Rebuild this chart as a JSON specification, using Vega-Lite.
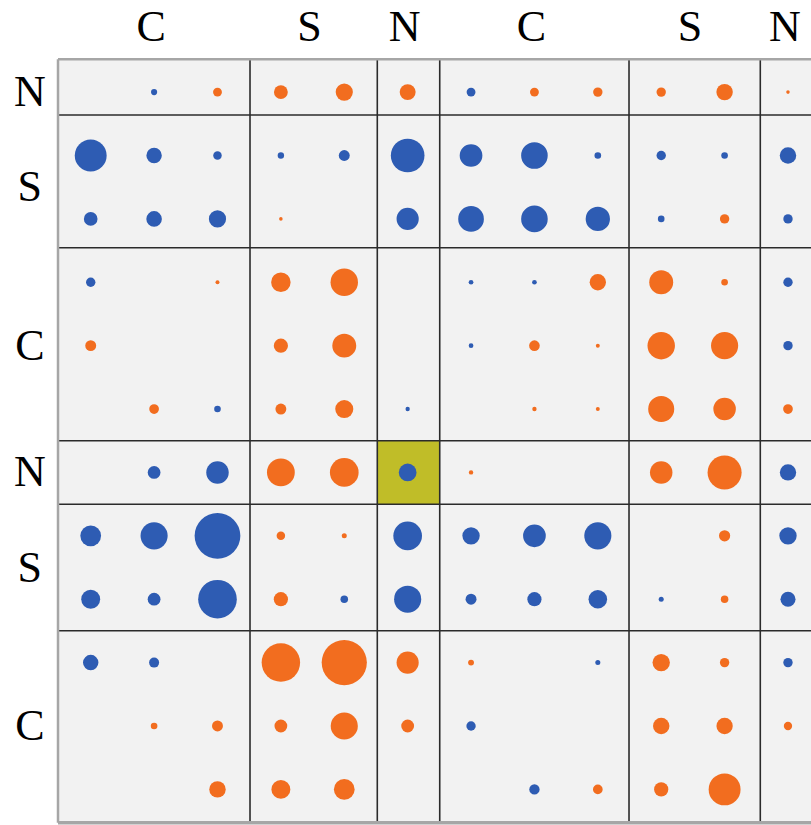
{
  "$schema": "https://vega.github.io/schema/vega-lite/v6.json",
  "width": 811,
  "height": 825,
  "autosize": {"type": "none"},
  "padding": 0,
  "background": "white",
  "config": {"view": {"stroke": null}},
  "datasets": {
    "cells": [
      {"r":0,"c":1,"k":"B","v":12},{"r":0,"c":2,"k":"O","v":25},{"r":0,"c":3,"k":"O","v":61},{"r":0,"c":4,"k":"O","v":94},{"r":0,"c":5,"k":"O","v":81},{"r":0,"c":6,"k":"B","v":25},{"r":0,"c":7,"k":"O","v":25},{"r":0,"c":8,"k":"O","v":28},{"r":0,"c":9,"k":"O","v":28},{"r":0,"c":10,"k":"O","v":86},{"r":0,"c":11,"k":"O","v":4},
      {"r":1,"c":0,"k":"B","v":324},{"r":1,"c":1,"k":"B","v":76},{"r":1,"c":2,"k":"B","v":23},{"r":1,"c":3,"k":"B","v":13},{"r":1,"c":4,"k":"B","v":38},{"r":1,"c":5,"k":"B","v":361},{"r":1,"c":6,"k":"B","v":164},{"r":1,"c":7,"k":"B","v":225},{"r":1,"c":8,"k":"B","v":14},{"r":1,"c":9,"k":"B","v":28},{"r":1,"c":10,"k":"B","v":14},{"r":1,"c":11,"k":"B","v":86},
      {"r":2,"c":0,"k":"B","v":59},{"r":2,"c":1,"k":"B","v":77},{"r":2,"c":2,"k":"B","v":94},{"r":2,"c":3,"k":"O","v":4},{"r":2,"c":5,"k":"B","v":156},{"r":2,"c":6,"k":"B","v":210},{"r":2,"c":7,"k":"B","v":225},{"r":2,"c":8,"k":"B","v":188},{"r":2,"c":9,"k":"B","v":14},{"r":2,"c":10,"k":"O","v":28},{"r":2,"c":11,"k":"B","v":28},
      {"r":3,"c":0,"k":"B","v":28},{"r":3,"c":2,"k":"O","v":5},{"r":3,"c":3,"k":"O","v":121},{"r":3,"c":4,"k":"O","v":240},{"r":3,"c":6,"k":"B","v":7},{"r":3,"c":7,"k":"B","v":7},{"r":3,"c":8,"k":"O","v":85},{"r":3,"c":9,"k":"O","v":182},{"r":3,"c":10,"k":"O","v":14},{"r":3,"c":11,"k":"B","v":28},
      {"r":4,"c":0,"k":"O","v":38},{"r":4,"c":3,"k":"O","v":64},{"r":4,"c":4,"k":"O","v":182},{"r":4,"c":6,"k":"B","v":7},{"r":4,"c":7,"k":"O","v":36},{"r":4,"c":8,"k":"O","v":5},{"r":4,"c":9,"k":"O","v":240},{"r":4,"c":10,"k":"O","v":234},{"r":4,"c":11,"k":"B","v":28},
      {"r":5,"c":1,"k":"O","v":30},{"r":5,"c":2,"k":"B","v":14},{"r":5,"c":3,"k":"O","v":38},{"r":5,"c":4,"k":"O","v":104},{"r":5,"c":5,"k":"B","v":6},{"r":5,"c":7,"k":"O","v":6},{"r":5,"c":8,"k":"O","v":5},{"r":5,"c":9,"k":"O","v":216},{"r":5,"c":10,"k":"O","v":161},{"r":5,"c":11,"k":"O","v":30},
      {"r":6,"c":1,"k":"B","v":52},{"r":6,"c":2,"k":"B","v":161},{"r":6,"c":3,"k":"O","v":246},{"r":6,"c":4,"k":"O","v":262},{"r":6,"c":5,"k":"B","v":100},{"r":6,"c":6,"k":"O","v":6},{"r":6,"c":9,"k":"O","v":161},{"r":6,"c":10,"k":"O","v":369},{"r":6,"c":11,"k":"B","v":85},
      {"r":7,"c":0,"k":"B","v":137},{"r":7,"c":1,"k":"B","v":234},{"r":7,"c":2,"k":"B","v":666},{"r":7,"c":3,"k":"O","v":23},{"r":7,"c":4,"k":"O","v":8},{"r":7,"c":5,"k":"B","v":262},{"r":7,"c":6,"k":"B","v":96},{"r":7,"c":7,"k":"B","v":164},{"r":7,"c":8,"k":"B","v":234},{"r":7,"c":10,"k":"O","v":40},{"r":7,"c":11,"k":"B","v":96},
      {"r":8,"c":0,"k":"B","v":114},{"r":8,"c":1,"k":"B","v":52},{"r":8,"c":2,"k":"B","v":475},{"r":8,"c":3,"k":"O","v":64},{"r":8,"c":4,"k":"B","v":18},{"r":8,"c":5,"k":"B","v":234},{"r":8,"c":6,"k":"B","v":38},{"r":8,"c":7,"k":"B","v":64},{"r":8,"c":8,"k":"B","v":110},{"r":8,"c":9,"k":"B","v":8},{"r":8,"c":10,"k":"O","v":18},{"r":8,"c":11,"k":"B","v":72},
      {"r":9,"c":0,"k":"B","v":76},{"r":9,"c":1,"k":"B","v":32},{"r":9,"c":3,"k":"O","v":471},{"r":9,"c":4,"k":"O","v":650},{"r":9,"c":5,"k":"O","v":156},{"r":9,"c":6,"k":"O","v":11},{"r":9,"c":8,"k":"B","v":8},{"r":9,"c":9,"k":"O","v":96},{"r":9,"c":10,"k":"O","v":28},{"r":9,"c":11,"k":"B","v":28},
      {"r":10,"c":1,"k":"O","v":14},{"r":10,"c":2,"k":"O","v":38},{"r":10,"c":3,"k":"O","v":52},{"r":10,"c":4,"k":"O","v":234},{"r":10,"c":5,"k":"O","v":52},{"r":10,"c":6,"k":"B","v":28},{"r":10,"c":9,"k":"O","v":86},{"r":10,"c":10,"k":"O","v":85},{"r":10,"c":11,"k":"O","v":22},
      {"r":11,"c":2,"k":"O","v":86},{"r":11,"c":3,"k":"O","v":114},{"r":11,"c":4,"k":"O","v":137},{"r":11,"c":7,"k":"B","v":34},{"r":11,"c":8,"k":"O","v":30},{"r":11,"c":9,"k":"O","v":64},{"r":11,"c":10,"k":"O","v":324}
    ],
    "inner": [
      {"x":2.513,"x2":2.513,"y":-0.517,"y2":11.526},
      {"x":4.521,"x2":4.521,"y":-0.517,"y2":11.526},
      {"x":5.506,"x2":5.506,"y":-0.517,"y2":11.526},
      {"x":8.492,"x2":8.492,"y":-0.517,"y2":11.526},
      {"x":10.563,"x2":10.563,"y":-0.517,"y2":11.526},
      {"x":-0.516,"x2":11.5,"y":0.361,"y2":0.361},
      {"x":-0.516,"x2":11.5,"y":2.455,"y2":2.455},
      {"x":-0.516,"x2":11.5,"y":5.499,"y2":5.499},
      {"x":-0.516,"x2":11.5,"y":6.503,"y2":6.503},
      {"x":-0.516,"x2":11.5,"y":8.497,"y2":8.497}
    ],
    "border": [
      {"x":-0.516,"x2":-0.516,"y":-0.517,"y2":11.526},
      {"x":-0.516,"x2":11.5,"y":-0.517,"y2":-0.517}
    ],
    "bottom": [
      {"x":-0.516,"x2":11.5,"y":11.526,"y2":11.526}
    ],
    "area": [{"x":-0.516,"x2":11.5,"y":-0.517,"y2":11.526}],
    "focus": [{"x":4.521,"x2":5.506,"y":5.499,"y2":6.503}],
    "toplabels": [
      {"t":"C","x":1,"y":-0.814},{"t":"S","x":3.5,"y":-0.814},{"t":"N","x":5,"y":-0.814},
      {"t":"C","x":7,"y":-0.814},{"t":"S","x":9.5,"y":-0.814},{"t":"N","x":11,"y":-0.814}
    ],
    "leftlabels": [
      {"t":"N","x":-0.96,"y":0},{"t":"S","x":-0.96,"y":1.5},{"t":"C","x":-0.96,"y":4},
      {"t":"N","x":-0.96,"y":6},{"t":"S","x":-0.96,"y":7.5},{"t":"C","x":-0.96,"y":10}
    ]
  },
  "encoding": {},
  "layer": [
    {
      "data": {"name": "area"},
      "mark": {"type": "rect", "fill": "#f2f2f2"},
      "encoding": {
        "x": {"field": "x", "type": "quantitative", "scale": {"domain": [-1.431, 11.363], "nice": false, "zero": false}, "axis": null},
        "x2": {"field": "x2"},
        "y": {"field": "y", "type": "quantitative", "scale": {"domain": [-1.453, 11.562], "nice": false, "zero": false, "reverse": true}, "axis": null},
        "y2": {"field": "y2"}
      }
    },
    {
      "data": {"name": "focus"},
      "mark": {"type": "rect", "fill": "#c0bd28"},
      "encoding": {
        "x": {"field": "x", "type": "quantitative"},
        "x2": {"field": "x2"},
        "y": {"field": "y", "type": "quantitative"},
        "y2": {"field": "y2"}
      }
    },
    {
      "data": {"name": "inner"},
      "mark": {"type": "rule", "stroke": "#2b2b2b", "strokeWidth": 1.6},
      "encoding": {
        "x": {"field": "x", "type": "quantitative"},
        "x2": {"field": "x2"},
        "y": {"field": "y", "type": "quantitative"},
        "y2": {"field": "y2"}
      }
    },
    {
      "data": {"name": "border"},
      "mark": {"type": "rule", "stroke": "#a6a6a6", "strokeWidth": 2.5},
      "encoding": {
        "x": {"field": "x", "type": "quantitative"},
        "x2": {"field": "x2"},
        "y": {"field": "y", "type": "quantitative"},
        "y2": {"field": "y2"}
      }
    },
    {
      "data": {"name": "bottom"},
      "mark": {"type": "rule", "stroke": "#a6a6a6", "strokeWidth": 3.5},
      "encoding": {
        "x": {"field": "x", "type": "quantitative"},
        "x2": {"field": "x2"},
        "y": {"field": "y", "type": "quantitative"},
        "y2": {"field": "y2"}
      }
    },
    {
      "data": {"name": "cells"},
      "mark": {"type": "point", "shape": "circle", "filled": true, "opacity": 1},
      "encoding": {
        "x": {"field": "c", "type": "quantitative"},
        "y": {"field": "r", "type": "quantitative"},
        "size": {"field": "v", "type": "quantitative", "scale": {"type": "linear", "domain": [0, 1000], "range": [0, 3141.6], "zero": true}, "legend": null},
        "color": {"field": "k", "type": "nominal", "scale": {"domain": ["B", "O"], "range": ["#2e5cb3", "#f26d1f"]}, "legend": null}
      }
    },
    {
      "data": {"name": "toplabels"},
      "mark": {"type": "text", "font": "Liberation Serif", "fontSize": 44, "align": "center", "baseline": "alphabetic", "dx": -3, "color": "#000000"},
      "encoding": {
        "x": {"field": "x", "type": "quantitative"},
        "y": {"field": "y", "type": "quantitative"},
        "text": {"field": "t"}
      }
    },
    {
      "data": {"name": "leftlabels"},
      "mark": {"type": "text", "font": "Liberation Serif", "fontSize": 44, "align": "center", "baseline": "alphabetic", "dy": 14, "color": "#000000"},
      "encoding": {
        "x": {"field": "x", "type": "quantitative"},
        "y": {"field": "y", "type": "quantitative"},
        "text": {"field": "t"}
      }
    }
  ]
}
